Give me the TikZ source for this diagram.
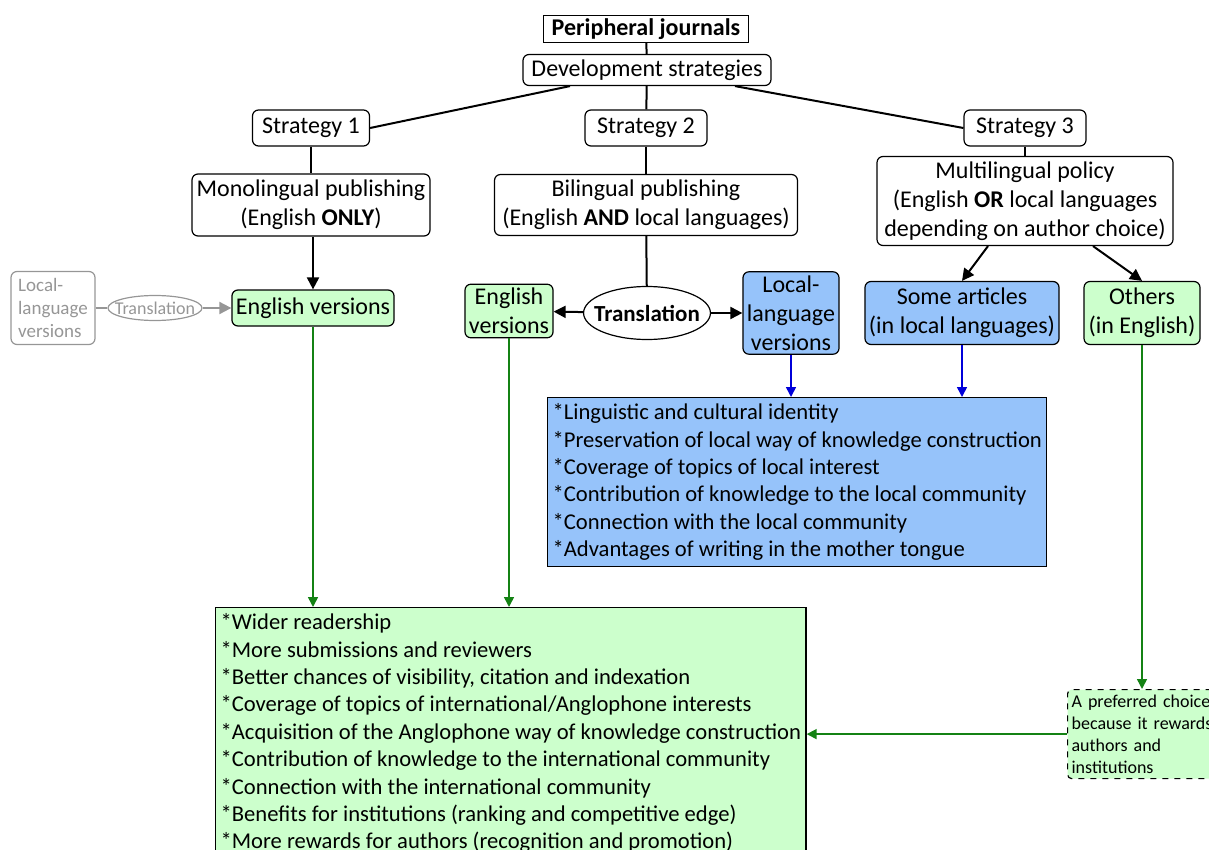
\documentclass[tikz,border=0pt]{standalone}
\usepackage{fontspec}
\setmainfont{Carlito}
\usetikzlibrary{positioning, calc, arrows.meta, shapes.geometric}

\definecolor{lgreen}{RGB}{204,255,204}
\definecolor{lblue}{RGB}{150,195,250}
\definecolor{dgreen}{RGB}{20,130,20}
\definecolor{lgrey}{RGB}{150,150,150}

\tikzset{
    box/.style={draw, rounded corners=3pt, align=center, inner sep=2pt, line width=0.6pt,
        font=\fontsize{12}{14.4}\selectfont},
    listbox/.style={draw, line width=0.6pt, align=left, anchor=north west, inner xsep=2.5pt,
        inner ysep=3pt, font=\fontsize{11.3}{13.7}\selectfont},
    greybox/.style={box, draw=lgrey, text=lgrey, font=\fontsize{9.5}{11.5}\selectfont},
    oval/.style={draw, ellipse, inner xsep=-4pt, inner ysep=0pt, line width=0.6pt},
    link/.style={line width=1pt},
    arr/.style={line width=1pt, -{Triangle[length=6pt,width=6pt]}},
    garr/.style={arr, line width=0.8pt, -{Triangle[length=5pt,width=5pt]}, color=dgreen},
    barr/.style={arr, line width=0.8pt, -{Triangle[length=5pt,width=5pt]}, color=blue!85!black},
}

\begin{document}
\begin{tikzpicture}[x=0.5pt, y=-0.5pt]
    % frame
    \useasboundingbox (0,0) rectangle (1209,850);
    \clip (0,0) rectangle (1209,850);

    % top
    \node[draw, line width=0.6pt, minimum width=102.5pt, minimum height=13.5pt, inner sep=1pt,
        font=\bfseries\fontsize{12}{14.4}\selectfont] (top) at (646,29) {Peripheral journals};
    \node[box, minimum width=124pt, minimum height=15.5pt] (dev) at (647,70) {Development strategies};

    % strategies
    \node[box, minimum width=58.5pt, minimum height=18pt] (s1) at (311,128) {Strategy 1};
    \node[box, minimum width=61pt, minimum height=18pt] (s2) at (646,128) {Strategy 2};
    \node[box, minimum width=61pt, minimum height=18pt] (s3) at (1025,128) {Strategy 3};

    \node[box, minimum width=119pt, minimum height=31pt] (mono) at (311,205)
        {Monolingual publishing\\(English \textbf{ONLY})};
    \node[box, minimum width=151.5pt, minimum height=30.5pt] (bili) at (646,205)
        {Bilingual publishing\\(English \textbf{AND} local languages)};
    \node[box, minimum width=148pt, minimum height=44.5pt] (multi) at (1025,201)
        {Multilingual policy\\(English \textbf{OR} local languages\\depending on author choice)};

    % versions
    \node[greybox, minimum width=42pt, minimum height=36.5pt, align=left] (locg) at (53,308)
        {Local-\\language\\versions};
    \node[oval, draw=lgrey, text=lgrey, minimum width=47pt, minimum height=12.5pt,
        font=\fontsize{9}{11}\selectfont] (trg) at (155,308) {Translation};
    \node[box, fill=lgreen, minimum width=80pt, minimum height=18pt] (eng1) at (313,308) {English versions};

    \node[oval, minimum width=62pt, minimum height=26.5pt,
        font=\bfseries\fontsize{11.5}{14}\selectfont] (trans) at (647,313) {Translation};
    \node[box, fill=lgreen, minimum width=42pt, minimum height=26.5pt] (eng2) at (509,311)
        {English\\versions};
    \node[box, fill=lblue, minimum width=46.5pt, minimum height=40.5pt] (loc2) at (791,313)
        {Local-\\language\\versions};
    \node[box, fill=lblue, minimum width=95pt, minimum height=31.5pt] (some) at (962,313)
        {Some articles\\(in local languages)};
    \node[box, fill=lgreen, minimum width=58pt, minimum height=31.5pt] (others) at (1142,313)
        {Others\\(in English)};

    % lists
    \node[listbox, fill=lblue, minimum height=81.5pt] (blist) at (547,397)
        {*Linguistic and cultural identity\\{*}Preservation of local way of knowledge construction\\{*}Coverage of topics of local interest\\{*}Contribution of knowledge to the local community\\{*}Connection with the local community\\{*}Advantages of writing in the mother tongue};
    \node[listbox, fill=lgreen] (glist) at (215,607)
        {*Wider readership\\{*}More submissions and reviewers\\{*}Better chances of visibility, citation and indexation\\{*}Coverage of topics of international/Anglophone interests\\{*}Acquisition of the Anglophone way of knowledge construction\\{*}Contribution of knowledge to the international community\\{*}Connection with the international community\\{*}Benefits for institutions (ranking and competitive edge)\\{*}More rewards for authors (recognition and promotion)};
    \node[box, fill=lgreen, dashed, rounded corners=2pt, align=left, anchor=north west,
        text width=76pt, minimum height=44.5pt, inner xsep=2pt,
        font=\fontsize{9}{11}\selectfont] (pref) at (1067,689)
        {A preferred choice\\because it rewards\\authors and\\institutions};

    % tree lines
    \draw[link] (top) -- (dev);
    \draw[link] (dev) -- (s2);
    \draw[link] ($(dev.south)+(-77,0)$) -- (s1.east);
    \draw[link] ($(dev.south)+(88,0)$) -- (s3.west);
    \draw[link] (s1) -- (mono);
    \draw[link] (s2) -- (bili);
    \draw[link] (s3) -- (multi);
    \draw[link] (bili) -- (trans);

    % arrows
    \draw[arr] (mono.south -| eng1) -- (eng1);
    \draw[arr] (trans) -- (eng2);
    \draw[arr] (trans) -- (loc2);
    \draw[arr] ($(multi.south)+(-37,0)$) -- (some.north);
    \draw[arr] ($(multi.south)+(68,0)$) -- (others.north);
    \draw[link, draw=lgrey] (locg) -- (trg);
    \draw[arr, draw=lgrey, fill=lgrey] (trg) -- (eng1);

    \draw[barr] (loc2) -- (loc2 |- blist.north);
    \draw[barr] (some) -- (some |- blist.north);
    \draw[garr] (eng1) -- (eng1 |- glist.north);
    \draw[garr] (eng2) -- (eng2 |- glist.north);
    \draw[garr] (others) -- (others |- pref.north);
    \draw[garr] (pref.west) -- (glist.east |- pref.west);
\end{tikzpicture}
\end{document}
